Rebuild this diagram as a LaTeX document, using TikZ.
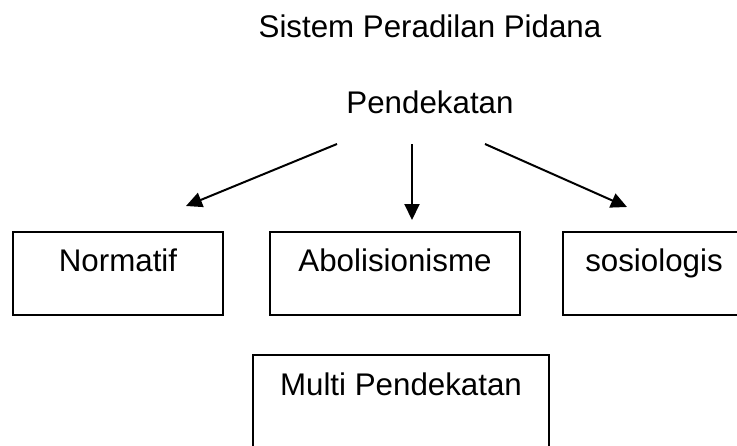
\documentclass[tikz,border=0pt]{standalone}
\usepackage{fontspec}
\setmainfont{Liberation Sans}
\usetikzlibrary{arrows.meta}

\begin{document}
\begin{tikzpicture}[x=1pt,y=-1pt]
        \tikzset{kotak/.style = {draw, line width=2pt, inner xsep=0pt, inner ysep=0pt, text height=39pt, text depth=44pt, anchor=base}}
        \tikzset{panah/.style = {-{Triangle[length=16pt,width=15pt]}, line width=2pt}}
        \fontsize{31.3}{37}\selectfont
        \useasboundingbox (0,0) rectangle (737,445);
        % texts
        \node[anchor=base, inner sep=0pt] (sistem) at (430,37) {Sistem Peradilan Pidana};
        \node[anchor=base, inner sep=0pt] (pendekatan) at (430,113) {Pendekatan};
        % boxes
        \node[kotak, minimum width=210pt] (normatif) at (118,271) {Normatif};
        \node[kotak, minimum width=250pt] (abolisionisme) at (395,271) {Abolisionisme};
        \node[kotak, minimum width=182pt] (sosiologis) at (654,271) {sosiologis};
        \node[kotak, minimum width=296pt, text height=40pt, text depth=120pt] (multi) at (401,395) {Multi Pendekatan};
        % arrow ends
        \coordinate (kiri) at (337,144);
        \coordinate (tengah) at (412,144);
        \coordinate (kanan) at (485,144);
        \coordinate (kenormatif) at (186,206);
        \coordinate (keabolisionisme) at (412,220);
        \coordinate (kesosiologis) at (627,207);
        %edges
        \draw[panah] (kiri) to (kenormatif);
        \draw[panah] (tengah) to (keabolisionisme);
        \draw[panah] (kanan) to (kesosiologis);
\end{tikzpicture}
\end{document}
